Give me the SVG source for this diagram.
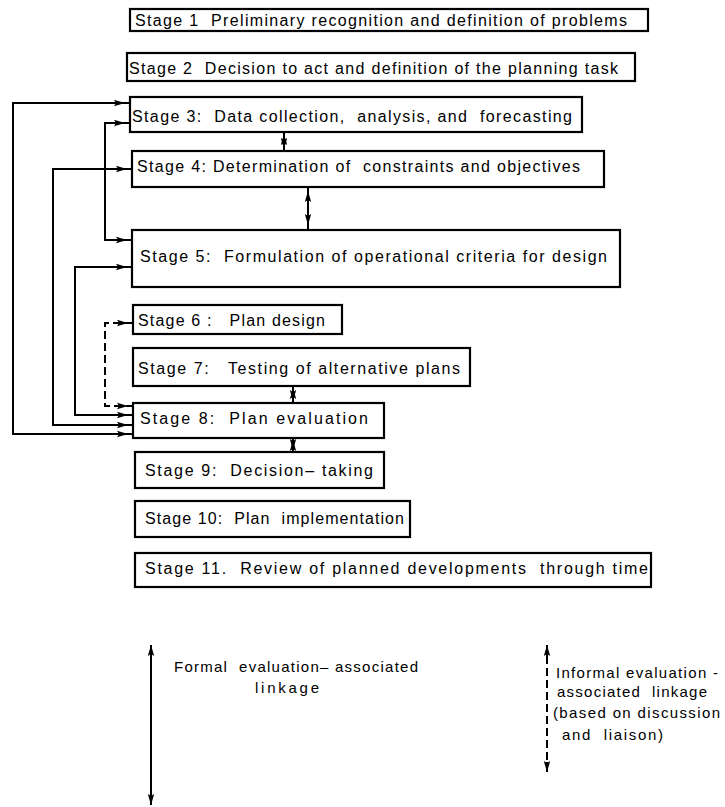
<svg xmlns="http://www.w3.org/2000/svg" width="725" height="807" viewBox="0 0 725 807">
<style>
  .box { fill: #fff; stroke: #000; stroke-width: 2.2; }
  .lbl { font-family: "Liberation Sans", Arial, sans-serif; font-size: 16px; fill: #000; white-space: pre; }
  .leg { font-family: "Liberation Sans", Arial, sans-serif; font-size: 15px; fill: #000; white-space: pre; }
  .ln { fill: none; stroke: #000; stroke-width: 2; }
  .dash { fill: none; stroke: #000; stroke-width: 2; stroke-dasharray: 8 4; }
  .ah { fill: #000; }
</style>
<defs>
  <polygon id="ar" points="0,0 -11,-3.2 -9,0 -11,3.2"/>
</defs>
<rect width="725" height="807" fill="#fff"/>

<g id="connectors">
  <path class="ln" d="M133,434 H13 V103 H130"/>
  <path class="ln" d="M130,123 H105 V240 H132"/>
  <path class="ln" d="M132,169 H53 V425 H133"/>
  <path class="ln" d="M132,267 H75 V415 H133"/>
  <path class="dash" d="M133,323 H105 V406 H133"/>
  <g class="ah">
    <use href="#ar" transform="translate(125,103)"/>
    <use href="#ar" transform="translate(125,123)"/>
    <use href="#ar" transform="translate(127,169)"/>
    <use href="#ar" transform="translate(127,240)"/>
    <use href="#ar" transform="translate(127,267)"/>
    <use href="#ar" transform="translate(128,323)"/>
    <use href="#ar" transform="translate(128,406)"/>
    <use href="#ar" transform="translate(128,415)"/>
    <use href="#ar" transform="translate(128,425)"/>
    <use href="#ar" transform="translate(128,434)"/>
  </g>
  <path class="ln" d="M284,132 V151 M308,187 V230 M293,386 V403 M293,438 V452"/>
  <g class="ah">
    <use href="#ar" transform="translate(284,134) rotate(-90)"/>
    <use href="#ar" transform="translate(284,149) rotate(90)"/>
    <use href="#ar" transform="translate(308,191) rotate(-90)"/>
    <use href="#ar" transform="translate(308,225) rotate(90)"/>
    <use href="#ar" transform="translate(293,388) rotate(-90)"/>
    <use href="#ar" transform="translate(293,401) rotate(90)"/>
    <use href="#ar" transform="translate(293,440) rotate(-90)"/>
    <use href="#ar" transform="translate(293,450) rotate(90)"/>
  </g>
</g>

<g id="stage1"><rect class="box" x="130" y="9" width="518" height="22"/><text class="lbl" x="135" y="26" textLength="492" lengthAdjust="spacing">Stage 1  Preliminary recognition and definition of problems</text></g>
<g id="stage2"><rect class="box" x="127" y="53" width="508" height="28"/><text class="lbl" x="129" y="74" textLength="489" lengthAdjust="spacing">Stage 2  Decision to act and definition of the planning task</text></g>
<g id="stage3"><rect class="box" x="130" y="97" width="452" height="35"/><text class="lbl" x="132" y="122" textLength="440" lengthAdjust="spacing">Stage 3:  Data collection,  analysis, and  forecasting</text></g>
<g id="stage4"><rect class="box" x="132" y="151" width="472" height="36"/><text class="lbl" x="137" y="172" textLength="443" lengthAdjust="spacing">Stage 4: Determination of  constraints and objectives</text></g>
<g id="stage5"><rect class="box" x="132" y="230" width="488" height="57"/><text class="lbl" x="140" y="262" textLength="467" lengthAdjust="spacing">Stage 5:  Formulation of operational criteria for design</text></g>
<g id="stage6"><rect class="box" x="133" y="305" width="209" height="29"/><text class="lbl" x="138" y="326" textLength="187" lengthAdjust="spacing">Stage 6 :   Plan design</text></g>
<g id="stage7"><rect class="box" x="133" y="348" width="337" height="38"/><text class="lbl" x="138" y="374" textLength="322" lengthAdjust="spacing">Stage 7:   Testing of alternative plans</text></g>
<g id="stage8"><rect class="box" x="133" y="403" width="251" height="35"/><text class="lbl" x="140" y="424" textLength="228" lengthAdjust="spacing">Stage 8:  Plan evaluation</text></g>
<g id="stage9"><rect class="box" x="135" y="452" width="249" height="36"/><text class="lbl" x="145" y="476" textLength="228" lengthAdjust="spacing">Stage 9:  Decision– taking</text></g>
<g id="stage10"><rect class="box" x="135" y="501" width="275" height="36"/><text class="lbl" x="145" y="524" textLength="259" lengthAdjust="spacing">Stage 10:  Plan  implementation</text></g>
<g id="stage11"><rect class="box" x="135" y="553" width="516" height="34"/><text class="lbl" x="145" y="574" textLength="503" lengthAdjust="spacing">Stage 11.  Review of planned developments  through time</text></g>

<g id="legend-formal">
  <path class="ln" d="M151,645 V805"/>
  <use class="ah" href="#ar" transform="translate(151,645) rotate(-90)"/>
  <use class="ah" href="#ar" transform="translate(151,805) rotate(90)"/>
  <text class="leg" x="174" y="672" textLength="244" lengthAdjust="spacing">Formal  evaluation– associated</text>
  <text class="leg" x="255" y="693" textLength="64" lengthAdjust="spacing">linkage</text>
</g>
<g id="legend-informal">
  <path class="dash" d="M547,656 V762"/>
  <path class="ln" d="M547,645 V656 M547,762 V772"/>
  <use class="ah" href="#ar" transform="translate(547,645) rotate(-90)"/>
  <use class="ah" href="#ar" transform="translate(547,772) rotate(90)"/>
  <text class="leg" x="556" y="678" textLength="162" lengthAdjust="spacing">Informal evaluation -</text>
  <text class="leg" x="557" y="697" textLength="150" lengthAdjust="spacing">associated  linkage</text>
  <text class="leg" x="553" y="718" textLength="167" lengthAdjust="spacing">(based on discussion</text>
  <text class="leg" x="562" y="740" textLength="101" lengthAdjust="spacing">and  liaison)</text>
</g>
</svg>
